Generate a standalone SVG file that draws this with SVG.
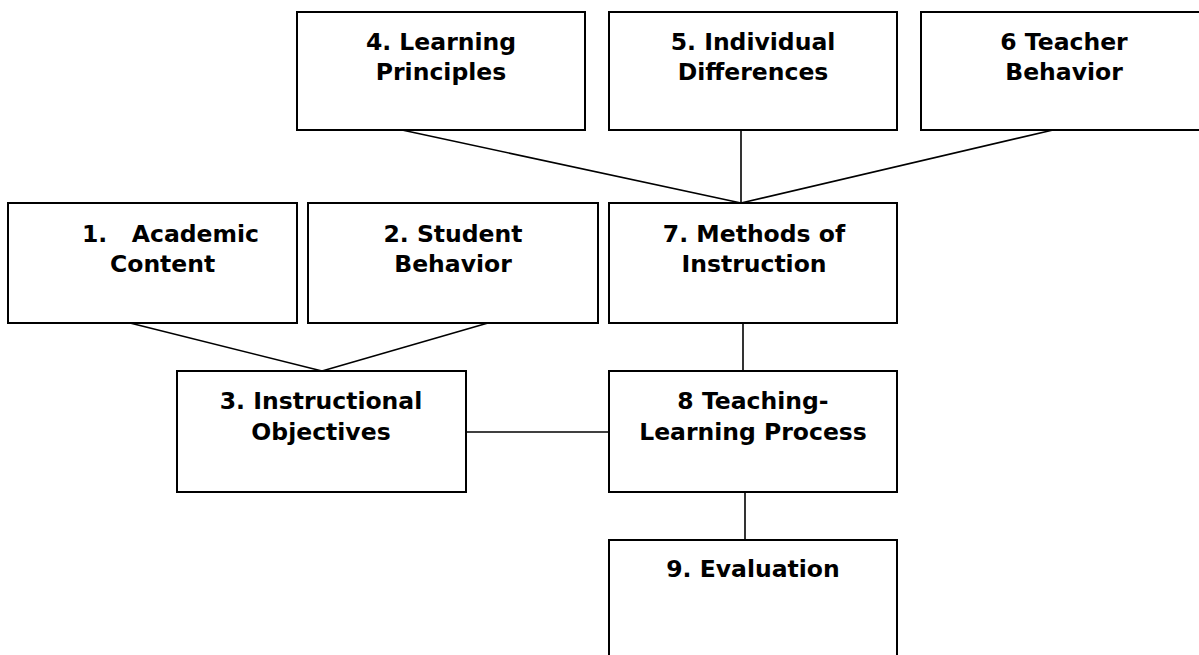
<svg xmlns="http://www.w3.org/2000/svg" width="1199" height="655" viewBox="0 0 1199 655">
<style>
.box{fill:#fff;stroke:#000;stroke-width:2}
.ln{fill:none;stroke:#000;stroke-width:1.6}
text{font-family:"DejaVu Sans",Verdana,sans-serif;font-weight:bold;font-size:23.5px;fill:#000}
.c{text-anchor:middle}
</style>
<rect width="1199" height="655" fill="#fff"/>
<g id="connectors">
<line class="ln" x1="402" y1="130" x2="741" y2="203"/>
<line class="ln" x1="741" y1="130" x2="741" y2="203"/>
<line class="ln" x1="1053" y1="130" x2="741" y2="203"/>
<line class="ln" x1="130" y1="323" x2="322" y2="371"/>
<line class="ln" x1="488" y1="323" x2="322" y2="371"/>
<line class="ln" x1="743" y1="323" x2="743" y2="371"/>
<line class="ln" x1="466" y1="432" x2="609" y2="432"/>
<line class="ln" x1="745" y1="492" x2="745" y2="540"/>
</g>
<g id="n4"><rect class="box" x="297" y="12" width="288" height="118"/>
<text class="c" x="441" y="50">4. Learning</text><text class="c" x="441" y="80">Principles</text></g>
<g id="n5"><rect class="box" x="609" y="12" width="288" height="118"/>
<text class="c" x="753" y="50">5. Individual</text><text class="c" x="753" y="80">Differences</text></g>
<g id="n6"><rect class="box" x="921" y="12" width="290" height="118"/>
<text class="c" x="1064" y="50">6 Teacher</text><text class="c" x="1064" y="80">Behavior</text></g>
<g id="n1"><rect class="box" x="8" y="203" width="289" height="120"/>
<text x="82" y="242" xml:space="preserve">1.   Academic</text><text x="110" y="272">Content</text></g>
<g id="n2"><rect class="box" x="308" y="203" width="290" height="120"/>
<text class="c" x="453" y="242">2. Student</text><text class="c" x="453" y="272">Behavior</text></g>
<g id="n7"><rect class="box" x="609" y="203" width="288" height="120"/>
<text class="c" x="754" y="242">7. Methods of</text><text class="c" x="754" y="272">Instruction</text></g>
<g id="n3"><rect class="box" x="177" y="371" width="289" height="121"/>
<text class="c" x="321" y="409">3. Instructional</text><text class="c" x="321" y="440">Objectives</text></g>
<g id="n8"><rect class="box" x="609" y="371" width="288" height="121"/>
<text class="c" x="753" y="409">8 Teaching-</text><text class="c" x="753" y="440">Learning Process</text></g>
<g id="n9"><rect class="box" x="609" y="540" width="288" height="125"/>
<text class="c" x="753" y="577">9. Evaluation</text></g>
</svg>
